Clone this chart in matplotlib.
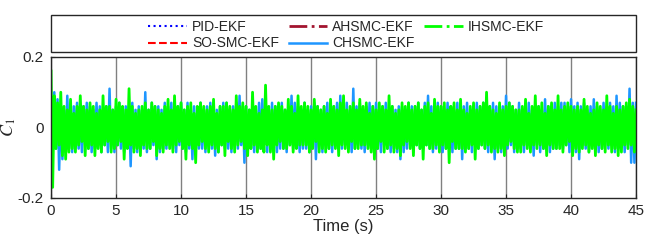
import numpy as np
import matplotlib
matplotlib.use('Agg')
import matplotlib.pyplot as plt
from matplotlib.patches import Rectangle

plt.rcParams['font.family'] = ['Liberation Sans', 'DejaVu Sans']
plt.rcParams['mathtext.fontset'] = 'stix'

# time grids (s)
t_fine = np.arange(0, 45.001, 0.125)
t_coarse = np.arange(0, 46, 1.0)

# C1 x 100, peak values (one row = 1.5 s)
ihsmc = [16, -17, 9, -6, 7, -5, 10, -8, 6, -9, 5, -7,
         8, -6, 4, -7, 6, -5, 9, -4, 6, -8, 5, -6,
         7, -5, 6, -8, 4, -6, 5, -7, 9, -5, 6, -4,
         6, -7, 5, -6, 8, -5, 7, -4, 6, -9, 5, -6,
         11, -5, 6, -7, 4, -6, 5, -8, 6, -5, 7, -6,
         5, -6, 7, -4, 6, -8, 5, -6, 4, -7, 6, -5,
         8, -6, 5, -7, 9, -5, 6, -4, 7, -6, 5, -9,
         6, -5, 7, -6, 4, -10, 6, -5, 7, -4, 6, -6,
         5, -7, 6, -5, 8, -6, 4, -7, 6, -5, 6, -8,
         7, -4, 6, -6, 5, -7, 9, -5, 6, -4, 7, -6,
         6, -8, 5, -6, 10, -5, 6, -7, 4, -6, 5, -7,
         12, -5, 6, -7, 5, -9, 6, -5, 7, -4, 6, -6,
         5, -6, 8, -5, 6, -7, 4, -6, 9, -5, 6, -5,
         7, -5, 6, -7, 5, -6, 8, -4, 6, -7, 5, -6,
         6, -7, 4, -6, 8, -5, 6, -6, 5, -8, 7, -5,
         9, -6, 5, -7, 6, -4, 7, -6, 5, -6, 8, -5,
         6, -5, 7, -6, 4, -7, 6, -9, 5, -6, 7, -4,
         6, -7, 5, -6, 9, -5, 6, -7, 4, -6, 5, -8,
         7, -5, 6, -4, 7, -6, 5, -8, 6, -5, 7, -6,
         5, -9, 6, -5, 7, -6, 4, -6, 8, -5, 6, -7,
         6, -5, 7, -6, 5, -10, 6, -4, 7, -6, 5, -6,
         8, -6, 5, -7, 4, -6, 6, -5, 7, -9, 5, -6,
         6, -5, 7, -6, 10, -5, 6, -7, 5, -6, 4, -7,
         7, -6, 5, -8, 6, -5, 7, -4, 6, -6, 5, -7,
         5, -7, 6, -5, 8, -6, 4, -7, 6, -5, 9, -6,
         6, -5, 7, -6, 4, -8, 6, -5, 7, -6, 5, -6,
         9, -6, 5, -7, 6, -5, 7, -4, 6, -8, 5, -6,
         6, -7, 5, -6, 8, -5, 6, -7, 4, -6, 5, -8,
         7, -5, 6, -6, 5, -7, 9, -5, 6, -7, 4, -6,
         6, -8, 5, -7, 6, -5, 7, -6, 8, -5, 6, -7,
         5]
chsmc = [7, -8, 10, -6, 8, -12, 6, -9, 5, -7, 9, -6,
         5, -7, 6, -5, 7, -6, 5, -7, 6, -5, 7, -6,
         6, -7, 5, -6, 7, -5, 6, -7, 5, -5, 6, -7,
         11, -6, 5, -7, 6, -5, 7, -6, 5, -7, 6, -5,
         6, -11, 7, -6, 5, -7, 6, -6, 5, -6, 10, -7,
         5, -6, 7, -5, 6, -9, 6, -7, 5, -6, 7, -6,
         6, -5, 7, -6, 5, -7, 6, -5, 7, -6, 5, -7,
         7, -6, 5, -9, 6, -7, 5, -6, 7, -6, 5, -7,
         6, -5, 7, -6, 6, -8, 5, -7, 6, -5, 7, -6,
         7, -6, 5, -7, 6, -5, 7, -6, 9, -5, 6, -10,
         6, -7, 5, -6, 6, -7, 5, -6, 7, -6, 8, -5,
         6, -7, 5, -6, 7, -5, 6, -7, 5, -6, 7, -6,
         5, -7, 6, -5, 9, -6, 7, -5, 6, -7, 5, -6,
         7, -6, 5, -7, 6, -5, 7, -9, 6, -6, 5, -7,
         6, -5, 7, -6, 5, -7, 6, -5, 7, -6, 9, -6,
         6, -5, 7, -6, 5, -7, 11, -6, 6, -5, 7, -6,
         5, -7, 6, -5, 7, -6, 6, -5, 7, -6, 5, -7,
         6, -5, 7, -6, 5, -7, 6, -6, 5, -7, 6, -9,
         6, -7, 5, -6, 7, -5, 6, -7, 6, -5, 7, -6,
         5, -6, 7, -5, 9, -6, 6, -7, 5, -6, 7, -5,
         6, -7, 5, -6, 7, -5, 6, -7, 5, -6, 7, -6,
         7, -9, 6, -5, 7, -6, 5, -7, 6, -5, 7, -6,
         6, -5, 7, -6, 5, -7, 6, -5, 7, -9, 6, -6,
         5, -7, 6, -5, 9, -6, 7, -5, 6, -7, 5, -6,
         7, -6, 5, -7, 6, -5, 7, -6, 5, -8, 6, -5,
         6, -7, 5, -6, 8, -5, 6, -7, 5, -6, 7, -6,
         6, -5, 7, -6, 7, -5, 6, -7, 8, -5, 6, -7,
         7, -9, 6, -5, 7, -6, 5, -7, 6, -5, 8, -6,
         6, -7, 5, -6, 7, -5, 6, -6, 7, -5, 6, -7,
         9, -6, 7, -5, 6, -7, 6, -5, 11, -10, 7, -10,
         7]
# hidden under the green/blue traces
pid = [3, -3, 2, -3, 3, -2, 3, -3, 2, -3, 3, -2, 3, -3, 2, -3,
       3, -2, 3, -3, 2, -3, 3, -2, 3, -3, 2, -3, 3, -2, 3, -3,
       2, -3, 3, -2, 3, -3, 2, -3, 3, -2, 3, -3, 2, -3]
so_smc = [2, -3, 3, -2, 3, -3, 2, -3, 3, -2, 3, -3, 2, -3, 3, -2,
          3, -3, 2, -3, 3, -2, 3, -3, 2, -3, 3, -2, 3, -3, 2, -3,
          3, -2, 3, -3, 2, -3, 3, -2, 3, -3, 2, -3, 3, -2]
ahsmc = [3, -2, 3, -3, 2, -3, 3, -2, 3, -3, 2, -3, 3, -2, 3, -3,
         2, -3, 3, -2, 3, -3, 2, -3, 3, -2, 3, -3, 2, -3, 3, -2,
         3, -3, 2, -3, 3, -2, 3, -3, 2, -3, 3, -2, 3, -3]

labels = ['PID-EKF', 'SO-SMC-EKF', 'AHSMC-EKF', 'CHSMC-EKF', 'IHSMC-EKF']
xticks = [0, 5, 10, 15, 20, 25, 30, 35, 40, 45]
yticks = [-0.2, 0, 0.2]

fig = plt.figure(figsize=(6.46, 2.42), dpi=100)
ax = fig.add_axes([0.079, 0.182, 0.9056, 0.5826])

sc = 0.01
ax.plot(t_coarse, np.array(pid) * sc, color='#0000FF', ls=':', lw=1.5, label=labels[0])
ax.plot(t_coarse, np.array(so_smc) * sc, color='#FF0000', ls='--', lw=1.5, label=labels[1])
ax.plot(t_coarse, np.array(ahsmc) * sc, color='#A2142F', ls='-.', lw=2.0, label=labels[2])
l_ch, = ax.plot(t_fine, np.array(chsmc) * sc, color='#1E96FF', ls='-', lw=1.8, label=labels[3])
l_ih, = ax.plot(t_fine, np.array(ihsmc) * sc, color='#00FF00', ls='-.', lw=2.0, label=labels[4])

ax.set_xlim(0, 45)
ax.set_ylim(-0.2, 0.2)
ax.set_xticks(xticks)
ax.set_xticklabels([str(v) for v in xticks])
ax.set_yticks(yticks)
ax.set_yticklabels(['-0.2', '0', '0.2'])
ax.tick_params(direction='in', length=3, labelsize=11, color='#262626',
               labelcolor='#262626')
ax.tick_params(axis='x', pad=4)
ax.tick_params(axis='y', pad=5.5)
ax.xaxis.grid(True, color='#808080', lw=1)
ax.set_axisbelow(True)
for s in ax.spines.values():
    s.set_color('#262626')
    s.set_linewidth(1.0)

ax.set_xlabel('Time (s)', fontsize=12, color='#262626', labelpad=1)
ax.set_ylabel('$C_1$', fontsize=13, rotation=90, color='#262626')
ax.yaxis.set_label_coords(-0.0564, 0.5)

handles, labs = ax.get_legend_handles_labels()
leg = fig.legend(handles, labs, loc='center', bbox_to_anchor=(0.536, 0.855),
                 ncol=3, frameon=False, fontsize=10, handlelength=2.8,
                 handletextpad=0.35, columnspacing=0.7, labelspacing=0.2,
                 borderpad=0)
for txt in leg.get_texts():
    txt.set_color('#262626')
# dense trace drawn solid (legend keeps the dash-dot sample)
l_ih.set_linestyle('-')

fig.add_artist(Rectangle((0.079, 0.785), 0.9056, 0.153, transform=fig.transFigure,
                         fill=False, edgecolor='#262626', lw=1.0))

fig.savefig('out.png', dpi=100)
